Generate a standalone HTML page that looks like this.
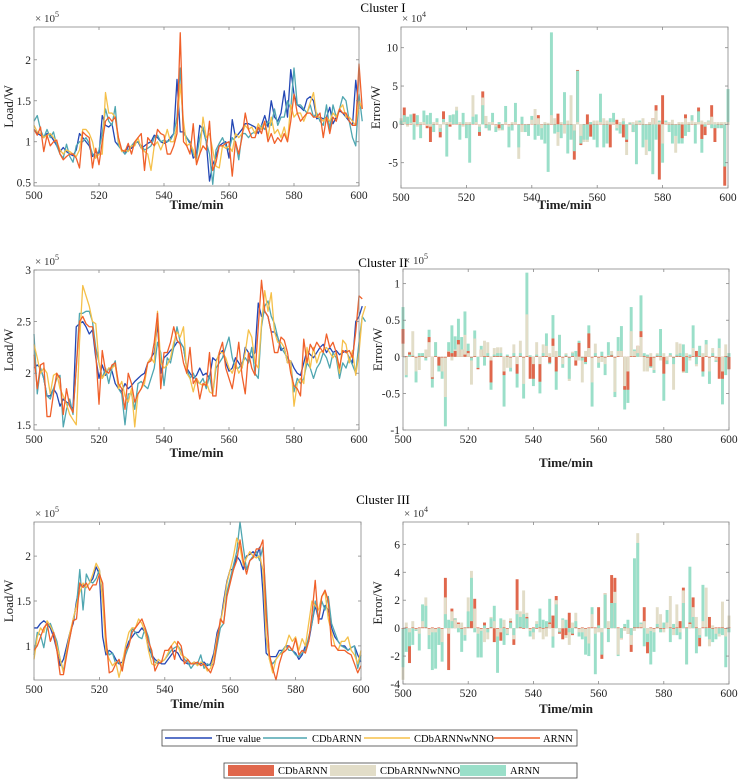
<!DOCTYPE html>
<html><head><meta charset="utf-8">
<style>
html,body{margin:0;padding:0;background:#fff;}
svg{display:block;font-family:"Liberation Serif",serif;}
</style></head>
<body>
<svg id="fig" width="739" height="779" viewBox="0 0 739 779">
<text x="383" y="12" font-size="13" text-anchor="middle">Cluster I</text>
<text x="383" y="267" font-size="13" text-anchor="middle">Cluster II</text>
<text x="383" y="504" font-size="13" text-anchor="middle">Cluster III</text>
<g>
<rect x="162" y="730" width="415" height="16" fill="#fff" stroke="#444" stroke-width="0.8"/>
<line x1="165" y1="738" x2="212" y2="738" stroke="#2347b5" stroke-width="1.5"/><text x="216" y="742" font-size="10.5">True value</text>
<line x1="263" y1="738" x2="307" y2="738" stroke="#4fa6b0" stroke-width="1.5"/><text x="312" y="742" font-size="10.5">CDbARNN</text>
<line x1="364" y1="738" x2="410" y2="738" stroke="#f5c04a" stroke-width="1.5"/><text x="414" y="742" font-size="10.5">CDbARNNwNNO</text>
<line x1="494" y1="738" x2="540" y2="738" stroke="#f0602a" stroke-width="1.5"/><text x="543" y="742" font-size="10.5">ARNN</text>
</g>
<g>
<rect x="224" y="763" width="353" height="15" fill="#fff" stroke="#444" stroke-width="0.8"/>
<rect x="228" y="765" width="46" height="11" fill="#e0674c"/><text x="278" y="774" font-size="10.5">CDbARNN</text>
<rect x="330" y="765" width="46" height="11" fill="#e2ddc8"/><text x="380" y="774" font-size="10.5">CDbARNNwNNO</text>
<rect x="460" y="765" width="46" height="11" fill="#9adfc9"/><text x="510" y="774" font-size="10.5">ARNN</text>
</g>
</svg>
<script>
const minutes=[500,600];
const xTicks=[500,520,540,560,580,600];
// Cluster I load (x1e5)
const true1=[1.15,1.10,1.08,1.05,1.10,1.08,1.02,0.95,0.88,0.93,0.88,0.85,0.83,0.90,1.10,1.05,1.00,0.95,0.82,0.88,0.85,1.32,1.20,1.18,1.22,1.00,0.95,0.90,0.85,0.95,0.92,0.98,1.00,0.92,0.95,0.98,1.00,1.08,1.05,1.00,0.98,1.00,1.05,1.10,1.76,1.12,1.12,1.05,0.98,0.80,0.85,1.20,1.15,1.00,0.52,0.72,0.82,0.95,0.98,1.00,0.80,1.27,1.05,1.10,1.15,1.22,1.22,1.20,1.18,1.10,1.20,1.32,1.18,1.50,1.30,1.25,1.35,1.62,1.30,1.88,1.58,1.45,1.42,1.38,1.52,1.55,1.50,1.28,1.30,1.28,1.30,1.42,1.22,1.30,1.38,1.35,1.30,1.25,1.20,1.75,1.40];
const cdb1=[1.25,1.32,1.15,1.05,1.15,1.05,1.12,0.95,0.85,0.80,0.97,0.82,0.75,0.95,1.00,1.00,1.05,0.98,0.85,0.80,0.90,1.10,1.40,1.25,1.20,1.43,0.95,0.90,0.85,0.90,0.95,1.00,1.00,0.95,0.90,0.92,0.95,1.05,1.08,1.00,1.02,1.00,1.02,1.10,1.30,1.90,1.10,1.05,1.00,0.85,0.80,1.05,1.18,1.00,0.85,0.48,0.90,0.98,1.05,0.95,0.90,1.05,1.00,0.78,1.10,1.10,1.05,1.10,1.12,1.15,1.20,1.15,1.25,1.20,1.40,1.20,1.30,1.30,1.50,1.40,1.90,1.45,1.45,1.40,1.35,1.45,1.30,1.35,1.25,1.20,1.45,1.15,1.45,1.30,1.40,1.55,1.50,1.25,1.05,0.95,1.58,1.25];
const wnno1=[1.20,1.12,1.10,1.05,1.08,1.10,1.05,1.00,0.90,0.85,0.90,0.88,0.85,0.82,0.90,1.15,1.15,1.10,1.00,0.80,0.85,0.85,1.60,1.35,1.35,1.30,1.00,0.88,0.90,0.88,0.95,0.95,1.05,0.92,0.88,0.85,0.65,0.95,1.00,0.90,1.00,1.15,1.00,1.00,1.20,1.70,1.25,0.95,0.98,0.90,0.75,0.85,1.30,1.05,1.10,0.90,0.70,0.68,0.95,0.92,0.95,0.88,1.10,1.05,1.10,1.20,1.15,1.18,1.10,1.22,1.15,1.25,1.05,1.30,1.10,1.15,1.05,1.18,1.00,1.45,1.30,1.35,1.35,1.25,1.35,1.48,1.60,1.30,1.30,1.25,1.30,1.25,1.35,1.30,1.40,1.45,1.30,1.30,1.25,1.20,1.50,1.40];
const arnn1=[1.15,1.08,1.18,0.88,1.08,0.95,1.00,1.02,0.85,0.78,0.82,0.85,0.85,0.80,0.68,1.12,1.08,1.05,0.68,0.92,0.72,1.00,1.25,1.30,1.25,1.30,1.05,0.90,0.88,0.98,0.85,1.00,1.05,1.10,0.65,1.05,1.00,0.95,1.15,1.10,1.08,0.85,0.85,0.95,1.10,2.33,1.00,0.95,0.85,1.22,0.72,0.85,0.95,0.90,1.25,0.65,0.75,0.95,0.95,0.98,1.00,0.58,1.00,0.85,1.05,1.35,1.15,1.05,1.05,1.18,1.10,1.25,1.00,1.10,0.98,1.05,1.00,1.10,1.00,1.25,1.58,1.35,1.25,1.30,1.35,1.35,1.30,1.30,1.35,1.05,1.30,1.10,1.30,1.25,1.40,1.35,1.35,1.25,1.20,1.20,1.95,1.40];
// Cluster I errors (x1e4)
const errRed1=[0.05,2.2,0.05,-0.05,1.4,0.05,-0.05,0.05,-0.5,-2.3,0.05,0.05,-1.7,1.7,0.05,-0.3,0.05,0.05,-0.05,0.05,-0.05,0.05,0.05,0.05,-1.5,4.3,-0.05,-0.8,0.05,-0.05,-0.5,0.05,0.05,-0.05,0.05,0.05,-0.05,0.05,-0.05,0.05,0.05,0.05,1.2,-0.05,0.05,0.05,-0.05,0.05,1.4,-0.05,0.05,-0.05,0.05,-4.6,7.1,-2.7,0.05,1.3,-1.6,0.05,-0.05,0.05,-0.05,0.05,-3.0,0.05,0.6,-0.05,-1.7,-2.3,0.05,-1.0,0.05,-0.05,0.05,-0.05,0.05,0.8,2.5,-7.2,3.8,0.05,-0.05,0.05,-0.05,0.05,-1.8,1.3,0.05,-0.05,0.05,2.2,-1.9,-1.4,0.05,2.5,-2.3,0.05,-0.05,-8.0,0.05];
const errBeige1=[0.8,0.3,-0.3,0.2,0.3,-0.3,0.3,0.3,-0.2,-0.3,0.3,0.3,-0.5,0.3,0.3,0.3,1.3,2.3,0.3,-0.3,0.3,0.3,3.8,0.3,-0.3,3.5,1.1,0.3,0.3,-0.3,-0.8,-0.8,0.3,-0.3,0.3,0.3,-4.5,-1.0,-1.0,-1.5,0.6,2.0,0.8,-0.5,0.3,0.2,1.2,0.8,-2.8,0.3,-1.2,0.5,3.8,-0.8,0.3,-1.5,-2.3,-2.3,0.3,0.5,0.5,0.3,0.8,0.5,0.3,0.3,-0.5,0.3,0.8,-4.0,0.3,0.3,0.5,0.3,0.8,-4.0,0.3,0.8,1.8,0.3,-2.5,0.3,0.3,0.6,-3.7,0.3,0.3,0.8,0.3,0.5,0.3,0.3,0.5,0.3,0.4,1.0,0.3,0.3,0.3,0.3,0.3];
const errTeal1=[0.5,1.2,1.0,1.3,-2.0,1.2,-1.8,1.8,1.2,1.5,-1.0,0.8,-1.0,0.7,-4.2,1.2,1.3,1.8,-2.0,1.5,-1.8,-5.0,1.0,1.3,-1.0,2.5,-0.5,-0.8,1.5,-1.0,0.3,-0.7,2.4,-3.0,-0.8,2.8,-3.0,1.0,-1.0,-1.5,1.1,-2.0,-1.5,-2.0,-2.5,-6.2,12.0,-1.2,-1.0,-1.8,4.2,-3.8,-2.0,-3.5,7.0,-2.5,-2.0,-2.0,0.3,-2.0,-3.0,4.0,-3.0,-2.5,0.8,1.5,-0.8,-1.2,0.4,-2.0,0.2,-1.0,-5.2,0.5,-3.0,-2.0,-3.5,-6.5,-2.0,0.5,-5.0,0.5,-1.0,-2.5,-1.5,-2.5,-2.5,-1.5,-1.0,1.2,-2.5,1.7,-3.7,-0.3,0.5,-0.5,-0.5,-0.5,-0.5,-5.5,4.6,1.7];
// Cluster II load (x1e5)
const true2=[2.05,2.08,2.05,1.95,1.78,1.78,1.85,1.80,1.68,1.75,1.72,1.70,1.65,2.45,2.48,2.50,2.45,2.38,2.42,2.15,1.95,2.08,1.98,2.05,2.02,1.90,1.85,1.82,1.90,1.85,1.88,1.92,1.95,1.98,2.00,2.10,2.15,2.20,2.48,2.00,2.15,2.18,2.22,2.25,2.30,2.30,2.25,2.05,2.00,1.95,1.98,2.05,1.98,2.00,1.95,2.15,2.12,2.18,2.22,2.10,2.02,2.05,2.15,2.10,2.05,2.25,2.20,2.15,2.20,2.68,2.55,2.60,2.55,2.40,2.40,2.35,2.22,2.25,2.10,2.12,2.05,2.00,1.98,2.10,2.22,2.18,2.15,2.20,2.25,2.28,2.20,2.25,2.20,2.22,2.18,2.20,2.22,2.15,2.10,2.50,2.55,2.65];
const cdb2=[2.38,1.80,2.05,1.95,1.78,1.75,1.85,1.95,1.98,1.48,1.65,1.75,1.60,2.05,2.58,2.58,2.60,2.60,2.50,2.25,2.10,1.95,2.05,1.90,2.05,2.12,1.85,1.80,1.50,1.80,1.80,1.65,1.90,1.92,1.88,1.85,1.95,2.05,2.30,2.20,1.88,2.15,2.10,2.25,2.45,2.30,2.25,2.05,1.95,2.00,1.92,1.90,1.95,1.85,1.98,1.80,2.05,2.10,2.15,2.25,2.35,2.15,2.05,2.05,2.10,2.15,2.10,2.25,2.00,1.95,2.45,2.65,2.70,2.55,2.48,2.35,2.25,2.20,2.15,2.10,1.82,1.95,1.90,1.95,2.10,2.05,1.95,2.05,2.10,2.20,2.15,2.05,2.20,2.15,1.95,2.10,2.05,2.15,2.08,2.00,2.30,2.55,2.50];
const wnno2=[2.28,2.15,2.00,2.05,2.00,1.80,1.98,2.00,1.85,1.78,1.70,1.60,1.55,1.50,2.30,2.85,2.75,2.65,2.50,2.48,2.10,1.95,2.00,2.05,2.05,2.08,1.85,1.92,1.78,1.72,1.85,1.48,1.80,1.85,1.90,2.10,2.15,2.10,2.60,2.10,2.05,2.08,2.15,2.30,2.40,2.35,2.45,2.00,1.95,1.82,1.95,1.90,1.88,1.92,1.82,1.80,2.10,2.20,2.20,2.15,2.05,2.00,2.10,2.00,2.05,2.20,2.42,2.35,2.10,2.05,2.48,2.80,2.60,2.78,2.40,2.30,2.30,2.25,2.10,2.12,1.68,1.90,1.95,1.90,2.25,2.05,2.25,2.10,2.20,2.22,2.25,2.20,2.15,2.20,2.00,2.32,2.28,2.10,2.22,1.98,2.20,2.55,2.65];
const arnn2=[2.18,1.85,2.08,2.10,1.58,1.58,1.80,2.00,1.95,1.60,1.85,1.68,1.62,2.05,2.50,2.55,2.48,2.45,2.45,2.20,1.70,2.22,2.02,2.00,2.08,2.10,1.90,1.85,1.65,2.00,1.90,1.72,1.80,1.85,1.95,2.10,2.12,2.30,2.58,1.85,2.20,2.20,2.30,2.45,2.32,2.28,2.10,2.00,2.25,1.90,1.95,1.75,1.90,1.88,2.20,1.78,1.78,2.20,2.30,2.05,1.95,1.85,2.05,2.30,1.98,1.80,2.20,2.05,1.98,2.45,2.90,2.60,2.55,2.40,2.20,2.20,2.35,2.32,2.20,2.00,1.88,1.85,1.78,2.33,2.10,2.28,2.22,2.30,2.25,2.20,2.38,2.25,2.30,2.20,2.05,2.22,2.20,2.22,2.15,2.40,2.75,2.72];
// Cluster II errors (x1e5)
const errRed2=[0.38,0.01,0.06,0.01,-0.01,0.01,0.01,-0.01,0.27,-0.3,0.01,-0.12,-0.01,-0.01,0.07,0.05,0.08,0.23,0.1,0.03,0.08,-0.01,0.01,-0.17,0.1,0.01,0.01,-0.35,0.01,0.01,0.01,-0.25,0.01,-0.01,0.01,-0.23,0.01,-0.01,0.01,-0.3,-0.3,0.01,-0.34,0.01,0.01,-0.08,0.25,-0.2,0.01,-0.01,0.01,-0.01,0.01,-0.12,0.19,-0.01,-0.07,0.32,-0.01,0.01,-0.01,0.01,-0.01,0.01,0.02,-0.01,0.01,0.08,-0.45,-0.45,0.01,0.01,0.15,0.35,0.01,-0.01,-0.13,-0.01,0.01,0.01,-0.23,-0.05,0.02,-0.01,0.01,0.01,-0.2,0.01,-0.01,0.01,0.08,0.01,-0.2,0.01,-0.01,0.01,-0.01,-0.3,-0.3,0.01,-0.17];
const errBeige2=[0.18,-0.25,0.07,0.35,-0.2,-0.18,0.05,0.1,0.2,-0.28,0.2,-0.2,-0.2,-0.55,0.08,-0.05,0.1,0.17,0.1,0.3,0.05,-0.38,0.25,-0.15,0.1,0.22,0.2,-0.05,0.12,0.13,0.13,-0.2,-0.15,-0.15,0.17,-0.1,0.22,-0.37,0.58,0.02,-0.1,0.2,-0.1,0.17,0.15,0.05,0.15,0.08,0.3,-0.1,0.05,-0.33,0.07,-0.05,-0.05,-0.35,0.08,0.12,-0.35,0.18,-0.08,-0.07,-0.1,0.02,0.08,-0.48,0.08,0.08,-0.4,-0.2,0.35,0.08,0.15,0.27,-0.2,-0.2,0.05,-0.18,0.05,-0.05,0.05,-0.05,0.02,-0.45,0.2,0.18,-0.22,0.05,-0.05,0.12,-0.13,0.15,0.05,0.17,-0.2,0.12,-0.05,0.12,-0.2,0.17,0.05];
const errTeal2=[0.68,-0.28,0.03,0.02,-0.35,0.05,0.05,-0.05,0.37,-0.42,0.2,-0.2,-0.3,-0.95,0.2,0.43,0.28,0.52,0.27,0.62,0.18,-0.05,0.36,-0.15,0.15,-0.12,0.05,-0.45,0.03,0.05,0.05,-0.68,0.03,-0.2,0.05,-0.42,0.05,-0.57,1.15,0.02,-0.4,0.03,-0.5,0.05,0.32,-0.1,0.57,-0.45,0.3,-0.15,0.03,-0.3,0.05,0.08,0.22,-0.05,-0.1,0.43,-0.68,0.05,-0.15,0.07,-0.25,0.2,0.03,-0.55,0.27,0.42,-0.72,-0.63,0.68,0.1,0.05,0.84,0.05,0.03,-0.15,-0.22,0.03,0.38,-0.6,-0.1,0.05,-0.1,0.03,0.05,0.17,-0.22,0.03,0.43,-0.1,0.15,-0.27,0.23,-0.37,0.05,-0.07,0.25,-0.65,-0.25,0.05];
// Cluster III load (x1e5)
const true3=[1.20,1.20,1.25,1.28,1.25,1.20,1.10,0.95,0.78,0.85,1.00,1.15,1.25,1.50,1.68,1.68,1.65,1.70,1.75,1.88,1.80,1.10,0.90,0.95,0.92,0.85,0.80,0.82,0.95,1.05,1.10,1.15,1.15,1.20,1.15,0.98,0.90,0.85,0.82,0.80,0.80,0.85,0.90,0.95,0.92,0.85,0.82,0.80,0.80,0.82,0.80,0.80,0.82,0.78,0.80,0.92,1.15,1.25,1.50,1.72,1.85,1.85,2.00,1.95,1.85,2.00,2.02,2.05,2.00,2.10,1.60,0.92,0.88,0.88,0.88,0.95,0.95,1.00,1.00,0.95,0.92,0.85,0.90,1.00,1.05,1.25,1.45,1.30,1.30,1.45,1.40,1.20,1.10,1.05,1.00,1.00,0.95,0.98,1.00,0.90,0.82];
const cdb3=[0.90,1.15,1.12,0.98,1.20,1.25,1.15,1.05,0.85,0.72,0.95,1.10,1.30,1.45,1.85,1.40,1.80,1.72,1.70,1.75,1.85,1.55,1.00,0.90,0.92,0.80,0.82,0.75,0.90,1.00,1.20,1.15,1.10,1.08,1.20,1.10,0.88,0.82,0.80,0.82,0.85,0.90,0.95,0.98,1.00,0.95,0.85,0.82,0.75,0.80,0.80,0.90,0.75,0.80,0.78,0.80,1.00,1.20,1.25,1.60,1.75,1.90,2.05,2.38,2.10,1.85,1.95,2.00,2.05,1.95,2.10,1.50,0.85,0.80,0.85,0.90,0.95,1.00,0.95,0.95,0.90,0.88,0.92,0.95,1.10,1.25,1.50,1.30,1.50,1.40,1.55,1.25,1.15,1.05,1.00,0.98,0.95,0.98,1.00,0.75,0.90];
const wnno3=[0.85,1.10,1.20,1.15,1.28,1.22,1.15,1.00,0.85,0.70,0.95,1.15,1.30,1.45,1.60,1.70,1.65,1.70,1.80,1.92,1.85,1.50,0.95,0.85,0.78,0.82,0.65,0.80,1.00,1.15,1.20,1.20,1.30,1.25,1.15,0.95,0.80,0.78,0.85,0.82,0.85,0.92,1.00,1.05,1.00,0.90,0.88,0.85,0.80,0.82,0.78,0.82,0.80,0.72,0.75,0.88,1.10,1.25,1.45,1.70,1.85,2.00,2.20,2.10,1.90,1.98,2.05,2.00,1.98,2.00,1.85,1.10,0.85,0.70,0.85,0.90,0.92,1.00,1.12,1.05,1.10,0.95,1.08,1.00,1.25,1.50,1.45,1.40,1.55,1.60,1.30,1.15,1.00,0.95,1.05,1.05,1.10,0.95,0.90,0.80,0.95];
const arnn3=[0.95,1.00,1.10,1.20,1.25,1.05,1.15,0.95,0.68,0.68,0.90,1.10,1.28,1.30,1.70,1.65,1.70,1.62,1.68,1.68,1.80,1.70,1.10,0.70,0.72,0.80,0.85,0.72,0.95,1.00,1.15,1.20,1.25,1.30,1.20,1.05,0.95,0.72,0.80,0.82,0.95,0.95,1.00,0.85,1.05,1.00,0.80,0.85,0.80,0.80,0.82,0.78,0.80,0.75,0.70,0.80,1.05,1.30,1.25,1.55,1.70,1.85,1.95,2.18,1.95,1.80,1.95,1.98,2.08,2.08,2.18,1.35,0.90,0.75,0.62,0.80,0.92,0.95,1.00,0.95,1.08,0.90,0.95,0.92,1.05,1.35,1.73,1.25,1.55,1.62,1.50,1.00,1.00,0.95,0.95,0.95,0.92,0.90,0.80,0.70,0.78];
// Cluster III errors (x1e4)
const errRed3=[-0.05,0.05,-2.5,0.05,-0.05,0.05,0.05,0.05,-0.05,0.05,-0.05,0.05,-0.05,3.6,-3.0,1.4,0.7,0.4,-0.05,0.05,0.05,0.5,2.1,0.05,-0.05,0.4,-0.05,0.05,-1.0,-0.05,-0.9,0.05,-0.05,0.5,-1.2,3.5,0.05,-0.05,0.8,-0.05,0.05,-0.05,0.05,-0.05,0.05,0.4,0.9,2.3,-0.4,-0.8,-0.5,1.1,-0.5,0.05,-0.05,0.05,-0.05,0.05,0.05,0.05,1.5,-2.2,2.5,-0.05,3.8,3.6,0.05,-0.8,0.05,-0.4,-1.7,0.05,0.05,0.05,1.5,-1.8,0.05,-0.05,0.05,-0.05,-0.05,0.4,0.05,-0.05,0.05,0.5,2.9,0.05,0.4,2.2,0.05,-1.3,0.05,0.05,0.8,-0.05,0.05,0.05,0.05,-0.05,0.05];
const errBeige3=[-3.7,0.4,-0.3,0.5,-0.1,-0.4,0.5,2.2,-0.5,-0.3,-0.3,-1.2,-1.0,2.2,-0.4,1.2,0.6,0.3,0.4,-0.5,2.2,4.1,1.4,-0.4,-0.2,-1.0,-0.8,0.8,0.5,-0.6,-0.3,0.6,-0.4,0.7,-0.8,1.3,1.2,2.7,1.1,-0.2,-0.8,0.5,-0.3,-0.8,-0.6,0.3,-0.6,2.0,-0.2,0.6,-0.7,-1.2,0.4,1.1,-0.3,-0.3,-0.6,-1.1,1.0,-0.4,-0.3,-0.3,2.5,0.5,1.8,2.6,-1.9,-0.8,-0.2,-0.4,-1.2,-0.2,6.8,0.3,0.5,-0.4,-0.2,-0.3,1.5,1.0,-0.3,0.4,2.3,-0.5,1.7,-0.3,2.7,-2.6,0.3,1.5,0.8,-0.5,0.5,2.9,-1.3,0.2,-0.4,-0.6,1.9,-0.6,0.9];
const errTeal3=[-2.8,-1.7,-1.3,-1.2,-0.2,-1.6,1.7,1.6,-1.5,-3.0,-2.9,-1.2,-2.4,1.0,0.6,0.5,0.7,-0.3,-1.7,-0.9,1.2,3.6,-0.3,-2.1,-2.1,0.2,-0.3,0.7,1.6,-3.2,0.7,-1.2,-0.5,0.4,-0.5,1.0,0.8,1.0,0.7,-0.6,-0.3,0.3,1.4,0.6,0.5,2.1,-1.4,1.7,-0.3,0.7,0.6,-0.3,-0.4,0.5,-0.6,-0.8,-1.9,-2.0,1.5,-3.3,0.2,-1.9,2.4,-1.0,1.8,1.8,-2.0,-0.7,0.3,0.6,-0.5,5.0,6.1,0.4,-1.3,-1.0,-2.6,-1.7,0.3,-0.3,0.4,1.3,-1.0,0.3,-0.5,-0.8,1.8,-2.6,4.4,0.8,-1.8,-0.7,3.1,-0.6,-0.8,-1.0,-0.8,-0.4,-0.5,-2.8,-0.3];
const ticks1L=[0.5,1,1.5,2], ticks1R=[-5,0,5,10];
const ticks2L=[1.5,2,2.5,3], ticks2R=[-1,-0.5,0,0.5,1];
const ticks3L=[1,1.5,2], ticks3R=[-4,-2,0,2,4,6];

const NS='http://www.w3.org/2000/svg';
const svg=document.getElementById('fig');
function mk(tag,attrs,parent){const e=document.createElementNS(NS,tag);for(const k in attrs)e.setAttribute(k,attrs[k]);(parent||svg).appendChild(e);return e;}

function axes(name,box,ylim,yTicks,exp,ylab,xlabY,panel){
  const g=mk('g',{});
  
  
  const sx=v=>box.x0+(v-minutes[0])/(minutes[1]-minutes[0])*(box.x1-box.x0);
  const sy=v=>box.y1-(v-ylim[0])/(ylim[1]-ylim[0])*(box.y1-box.y0);
  const plot=mk('g',{},g);
  
  
  panel(plot,sx,sy);
  const frame=mk('rect',{x:box.x0,y:box.y0,width:box.x1-box.x0,height:box.y1-box.y0,fill:'none',stroke:'#888','stroke-width':0.8},g);
  
  
  const xa=mk('g',{},g);
  
  
  xTicks.forEach(t=>{const x=sx(t);
    mk('line',{x1:x,x2:x,y1:box.y1,y2:box.y1-3,stroke:'#888','stroke-width':0.8},xa);
    mk('line',{x1:x,x2:x,y1:box.y0,y2:box.y0+3,stroke:'#888','stroke-width':0.8},xa);
    const tx=mk('text',{x:x,y:box.y1+13,'font-size':11.5,'text-anchor':'middle',fill:'#222'},xa);tx.textContent=t;});
  const xl=mk('text',{x:(box.x0+box.x1)/2,y:xlabY,'font-size':13,'text-anchor':'middle','font-weight':'bold',fill:'#222'},g);
  xl.textContent='Time/min';
  
  
  const ya=mk('g',{},g);
  
  
  yTicks.forEach(t=>{const y=sy(t);
    mk('line',{x1:box.x0,x2:box.x0+3,y1:y,y2:y,stroke:'#888','stroke-width':0.8},ya);
    mk('line',{x1:box.x1,x2:box.x1-3,y1:y,y2:y,stroke:'#888','stroke-width':0.8},ya);
    const tx=mk('text',{x:box.x0-3,y:y+4,'font-size':11.5,'text-anchor':'end',fill:'#222'},ya);tx.textContent=t;});
  const ex=mk('text',{x:box.x0+1,y:box.y0-5,'font-size':11,fill:'#333'},g);
  ex.textContent='\u00d7 10';
  const sup=mk('tspan',{dy:-5,'font-size':8},ex);sup.textContent=exp;
  
  
  const cy=(box.y0+box.y1)/2, lx=box.x0-21;
  const yl=mk('text',{x:lx,y:cy,'font-size':13,'text-anchor':'middle',transform:`rotate(-90 ${lx} ${cy})`,fill:'#222'},g);
  yl.textContent=ylab;
  
  
}

function linePanel(series){return (g,sx,sy)=>{
  series.forEach(s=>{
    const d=s.v.map((v,i)=>(i?'L':'M')+sx(minutes[0]+i).toFixed(2)+' '+sy(v).toFixed(2)).join(' ');
    const p=mk('path',{d:d,fill:'none',stroke:s.c,'stroke-width':1.3,'stroke-linejoin':'round'},g);
    
    
  });
};}
function barPanel(series,tag){return (g,sx,sy)=>{
  const n=series[0].v.length;
  const w=sx(minutes[0]+1)-sx(minutes[0]);
  for(let i=0;i<n;i++){
    const order=series.map(s=>({c:s.c,n:s.n,v:s.v[i]})).filter(o=>o.v!==undefined).sort((a,b)=>Math.abs(b.v)-Math.abs(a.v));
    order.forEach(o=>{
      const y0=sy(0),y1=sy(o.v);
      const r=mk('rect',{x:sx(minutes[0]+i)-w*0.45,y:Math.min(y0,y1),width:w*0.9,height:Math.max(0.3,Math.abs(y1-y0)),fill:o.c},g);
      
      
    });
  }
};}
const LC={t:'#2347b5',c:'#4fa6b0',w:'#f5c04a',a:'#f0602a'};
const BC={r:'#e0674c',b:'#e2ddc8',t:'#9adfc9'};
function lines(tv,c,w,a,k){return [{v:tv,c:LC.t,n:'true-value-line-'+k},{v:c,c:LC.c,n:'cdbarnn-line-'+k},{v:w,c:LC.w,n:'cdbarnnwnno-line-'+k},{v:a,c:LC.a,n:'arnn-line-'+k}];}
function bars(r,b,t){return [{v:r,c:BC.r,n:'cdbarnn'},{v:b,c:BC.b,n:'cdbarnnwnno'},{v:t,c:BC.t,n:'arnn'}];}

axes('cluster-i-load-chart',{x0:34,x1:359,y0:27,y1:186},[0.46,2.4],ticks1L,'5','Load/W',209,linePanel(lines(true1,cdb1,wnno1,arnn1,'c1')));
axes('cluster-i-error-chart',{x0:401,x1:728,y0:27,y1:188},[-8.3,12.7],ticks1R,'4','Error/W',209,barPanel(bars(errRed1,errBeige1,errTeal1),'c1'));
axes('cluster-ii-load-chart',{x0:34,x1:359,y0:270,y1:430},[1.45,3.0],ticks2L,'5','Load/W',457,linePanel(lines(true2,cdb2,wnno2,arnn2,'c2')));
axes('cluster-ii-error-chart',{x0:403,x1:729,y0:269,y1:430},[-1,1.2],ticks2R,'5','Error/W',467,barPanel(bars(errRed2,errBeige2,errTeal2),'c2'));
axes('cluster-iii-load-chart',{x0:34,x1:361,y0:522,y1:680},[0.62,2.38],ticks3L,'5','Load/W',708,linePanel(lines(true3,cdb3,wnno3,arnn3,'c3')));
axes('cluster-iii-error-chart',{x0:403,x1:729,y0:522,y1:684},[-4,7.6],ticks3R,'4','Error/W',713,barPanel(bars(errRed3,errBeige3,errTeal3),'c3'));
</script>
</body></html>
